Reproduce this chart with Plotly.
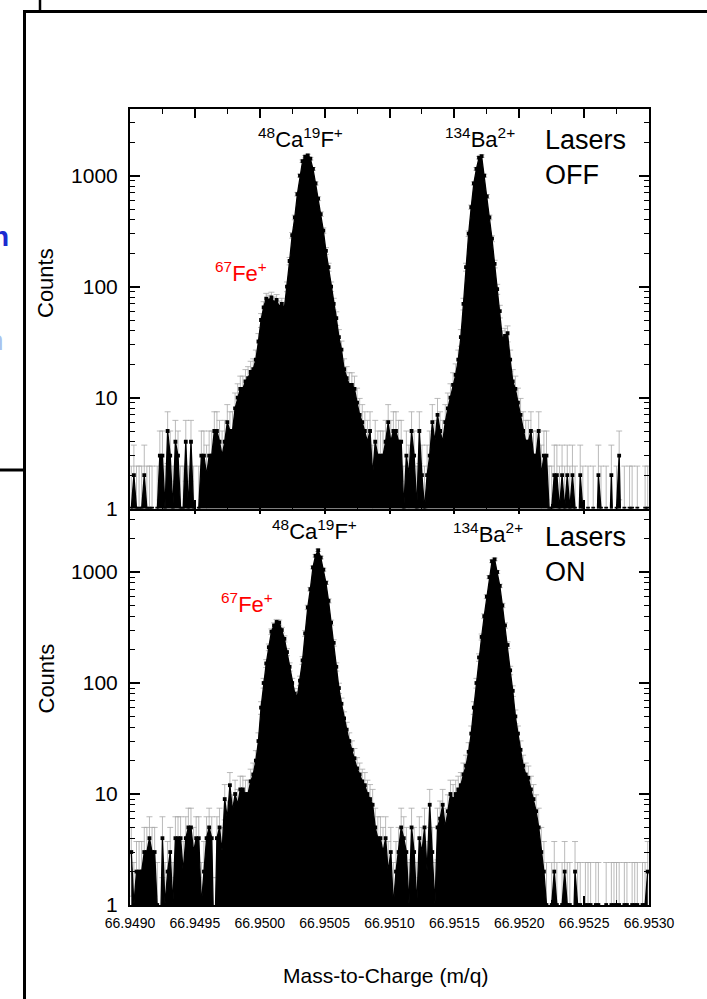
import numpy as np
import plotly.graph_objects as go

# ---------------- data ----------------
BIN_START = 66.9490      # m/q of the first bin edge
BIN_WIDTH = 0.00002      # histogram bin width

counts_lasers_off = [
    1, 2, 1, 1, 1, 2, 1, 1, 1, 0,
    1, 3, 3, 1, 5, 3, 1, 4, 3, 1,
    1, 4, 1, 4, 1, 0, 1, 3, 3, 2,
    3, 3, 5, 5, 4, 3, 4, 6, 5, 5,
    8, 10, 12, 12, 14, 15, 17, 18, 22, 32,
    50, 65, 78, 75, 80, 72, 76, 66, 70, 64,
    100, 170, 290, 420, 680, 1000, 1350, 1480, 1520, 1420,
    1150, 850, 620, 450, 320, 210, 150, 100, 70, 52,
    35, 27, 18, 15, 13, 13, 12, 9, 7, 6,
    5, 4, 5, 2, 4, 3, 3, 3, 4, 6,
    4, 5, 5, 4, 4, 1, 3, 2, 5, 3,
    1, 5, 2, 1, 2, 3, 6, 4, 7, 5,
    4, 6, 8, 10, 13, 16, 22, 35, 70, 150,
    300, 520, 850, 1150, 1450, 1500, 1000, 650, 420, 270,
    160, 95, 60, 34, 36, 38, 22, 14, 12, 9,
    7, 5, 4, 4, 5, 3, 3, 5, 2, 3,
    3, 1, 1, 2, 2, 1, 2, 1, 2, 1,
    2, 1, 0, 2, 1, 0, 1, 0, 1, 0,
    2, 1, 0, 1, 0, 2, 0, 1, 3, 0,
    1, 0, 1, 1, 0, 1, 0, 0, 1, 1,
]

counts_lasers_on = [
    3, 1, 2, 2, 2, 3, 3, 4, 3, 3,
    1, 0, 4, 1, 2, 3, 1, 4, 4, 4,
    2, 4, 5, 5, 3, 4, 4, 1, 2, 4,
    5, 4, 0, 4, 5, 3, 9, 6, 12, 7,
    10, 8, 11, 11, 10, 10, 13, 15, 20, 30,
    60, 100, 150, 210, 290, 330, 355, 350, 300, 250,
    190, 140, 100, 80, 75, 105, 160, 280, 480, 700,
    1100, 1400, 1570, 1350, 1050, 800, 550, 350, 230, 140,
    90, 65, 48, 38, 30, 25, 21, 17, 15, 13,
    12, 10, 9, 8, 5, 4, 4, 3, 4, 2,
    3, 1, 2, 3, 5, 4, 3, 1, 5, 3,
    1, 4, 3, 5, 2, 8, 3, 1, 5, 6,
    8, 5, 7, 10, 9, 10, 11, 12, 15, 18,
    24, 35, 60, 100, 170, 260, 400, 600, 900, 1250,
    1300, 1000, 750, 500, 330, 220, 130, 85, 50, 35,
    25, 18, 15, 14, 11, 9, 7, 5, 3, 2,
    1, 0, 1, 2, 1, 0, 1, 2, 1, 1,
    0, 2, 1, 1, 0, 1, 1, 1, 0, 1,
    1, 0, 0, 1, 0, 1, 1, 1, 1, 0,
    1, 1, 0, 1, 1, 1, 0, 1, 1, 2,
]

x_range = [66.9490, 66.9530]
y_tick_vals = [1, 10, 100, 1000]
y_tick_text = ["1", "10", "100", "1000"]

# ---------------- helpers ----------------
mz = BIN_START + BIN_WIDTH * (np.arange(len(counts_lasers_off)) + 0.5)
FONT = "Liberation Sans, Arial, sans-serif"

L, R, T, B = 130, 58, 109, 94
W, H = 707, 999
PW, PH = W - L - R, H - T - B


def PX(px):
    return (px - L) / PW


def PY(py):
    return (H - B - py) / PH


def add_panel(fig, counts, xa, ya):
    c = np.array(counts, dtype=float)
    # values for the drawing: empty bins drop below the log axis
    y_draw = np.where(c > 0, c, 0.3)
    y_err = np.where(c > 0, c, np.nan)
    up = np.sqrt(c + 1.0)
    dn = np.minimum(np.sqrt(c + 1.0), 0.6 * c)
    fig.add_trace(go.Scatter(
        x=mz, y=y_err, mode="markers", xaxis=xa, yaxis=ya,
        marker=dict(size=2, color="rgba(0,0,0,0)"),
        error_y=dict(type="data", array=up, arrayminus=dn, symmetric=False,
                     color="#a8a8a8", thickness=0.8, width=3),
        showlegend=False, hoverinfo="skip"))
    fig.add_trace(go.Scatter(
        x=mz, y=np.full(len(mz), 0.05), mode="lines", xaxis=xa, yaxis=ya,
        line=dict(width=0, color="rgba(0,0,0,0)"),
        showlegend=False, hoverinfo="skip"))
    fig.add_trace(go.Scatter(
        x=mz, y=y_draw, mode="lines+markers", xaxis=xa, yaxis=ya,
        fill="tonexty", fillcolor="black",
        line=dict(color="black", width=1.3),
        marker=dict(symbol="square", size=3.8, color="black"),
        showlegend=False))


fig = go.Figure()
add_panel(fig, counts_lasers_on, "x", "y")
add_panel(fig, counts_lasers_off, "x2", "y2")

minor_y = [m * 10 ** d for d in range(4) for m in range(2, 10)]

xaxis_common = dict(
    range=x_range, tickmode="linear", tick0=66.9490, dtick=0.0005,
    tickformat=".4f", ticks="inside", ticklen=9, tickwidth=1.5,
    tickcolor="black", showline=True, linewidth=2, linecolor="black",
    mirror="ticks", showgrid=False, zeroline=False,
    minor=dict(ticks="inside", ticklen=5, tickwidth=1.3, tickcolor="black",
               dtick=0.00025, tick0=66.9490, showgrid=False),
    tickfont=dict(family=FONT, size=14, color="black"),
)
yaxis_common = dict(
    type="log", range=[0, 3.6], tickmode="array",
    tickvals=y_tick_vals, ticktext=y_tick_text,
    ticks="inside", ticklen=10, tickwidth=1.5, tickcolor="black",
    showline=True, linewidth=2, linecolor="black", mirror="ticks",
    showgrid=False, zeroline=False,
    minor=dict(ticks="inside", ticklen=5, tickwidth=1.2, tickcolor="black",
               tickvals=minor_y, showgrid=False),
    tickfont=dict(family=FONT, size=21, color="black"),
    ticklabelstandoff=6,
)

fig.update_layout(
    width=W, height=H,
    margin=dict(l=L, r=R, t=T, b=B, pad=0),
    paper_bgcolor="white", plot_bgcolor="white",
    font=dict(family=FONT, color="black"),
    xaxis=dict(xaxis_common, anchor="y", domain=[0, 1], ticklabelstandoff=4),
    xaxis2=dict(xaxis_common, anchor="y2", domain=[0, 1], matches="x",
                showticklabels=False),
    yaxis=dict(yaxis_common, anchor="x", domain=[0, 0.502]),
    yaxis2=dict(yaxis_common, anchor="x2", domain=[0.498, 1]),
)

ann = []


def text(t, px, py, size, color="black", xanchor="center", align="center",
         angle=0):
    ann.append(dict(
        text=t, x=PX(px), y=PY(py), xref="paper", yref="paper",
        xanchor=xanchor, yanchor="middle", align=align, showarrow=False,
        textangle=angle,
        font=dict(family=FONT, size=size, color=color)))


# top panel (lasers off)
text("<sup>48</sup>Ca<sup>19</sup>F<sup>+</sup>", 300.5, 138, 22)
text("<sup>134</sup>Ba<sup>2+</sup>", 479.5, 138, 22)
text("Lasers<br>OFF", 543, 157, 27, xanchor="left", align="left")
text("<sup>67</sup>Fe<sup>+</sup>", 240.5, 272, 22, color="#ff0000")
# bottom panel (lasers on)
text("<sup>48</sup>Ca<sup>19</sup>F<sup>+</sup>", 314, 530, 22)
text("<sup>134</sup>Ba<sup>2+</sup>", 488, 533, 22)
text("Lasers<br>ON", 543, 554, 27, xanchor="left", align="left")
text("<sup>67</sup>Fe<sup>+</sup>", 246.5, 603, 22, color="#ff0000")
# axis titles
text("Counts", 45.5, 283.5, 22, angle=-90)
text("Counts", 45.5, 679, 22, angle=-90)
text("Mass-to-Charge (m/q)", 385, 975, 21)
# fragments of neighbouring panels (cropped at the left edge)
text("<b>n</b>", 11, 236, 28, color="#1c2bd0", xanchor="right")
text("n", 6, 340, 28, color="#a9c2ee", xanchor="right")
fig.update_layout(annotations=ann)


def seg(x0, y0, x1, y1, w):
    return dict(type="line", xref="paper", yref="paper",
                x0=PX(x0), y0=PY(y0), x1=PX(x1), y1=PY(y1),
                line=dict(color="black", width=w))


fig.update_layout(shapes=[
    seg(24.5, 10, 24.5, 1005, 3),
    seg(23, 11.5, 710, 11.5, 3),
    seg(40, -5, 40, 11, 2.5),
    seg(-5, 470, 24, 470, 3),
])

fig.write_html("out.html")
